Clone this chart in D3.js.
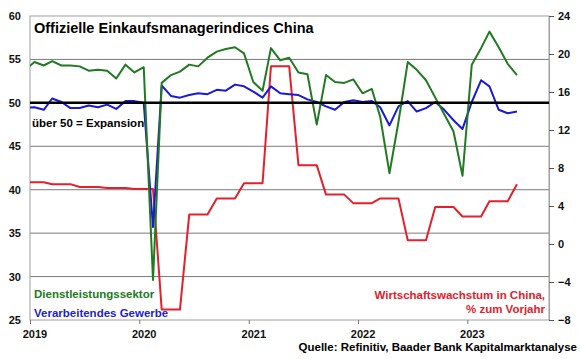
<!DOCTYPE html>
<html>
<head>
<meta charset="utf-8">
<script src="https://cdn.jsdelivr.net/npm/d3@7"></script>
<style>
  body { margin: 0; background: #fff; }
  svg text { font-family: "Liberation Sans", Arial, sans-serif; font-weight: bold; }
</style>
</head>
<body>
<div id="chart-area"></div>
<script>
// monthly values, Dec 2018 .. Jun 2023
const firstMonth = "2018-12";
const services = [53.8,
  54.7, 54.3, 54.8, 54.3, 54.3, 54.2, 53.7, 53.8, 53.7, 52.8, 54.4, 53.5,
  54.1, 29.6, 52.3, 53.2, 53.6, 54.4, 54.2, 55.2, 55.9, 56.2, 56.4, 55.7,
  52.4, 51.4, 56.3, 54.9, 55.2, 53.5, 53.3, 47.5, 53.2, 52.4, 52.3, 52.7,
  51.1, 51.6, 48.4, 41.9, 47.8, 54.7, 53.8, 52.6, 50.6, 48.7, 46.7, 41.6,
  54.4, 56.3, 58.2, 56.4, 54.5, 53.2];
const manufacturing = [49.4,
  49.5, 49.2, 50.5, 50.1, 49.4, 49.4, 49.7, 49.5, 49.8, 49.3, 50.2, 50.2,
  50.0, 35.7, 52.0, 50.8, 50.6, 50.9, 51.1, 51.0, 51.5, 51.4, 52.1, 51.9,
  51.3, 50.6, 51.9, 51.1, 51.0, 50.9, 50.4, 50.1, 49.6, 49.2, 50.1, 50.3,
  50.1, 50.2, 49.5, 47.4, 49.6, 50.2, 49.0, 49.4, 50.1, 49.2, 48.0, 47.0,
  50.1, 52.6, 51.9, 49.2, 48.8, 49.0];
const gdpGrowth = [6.5,
  6.5, 6.5, 6.3, 6.3, 6.3, 6.0, 6.0, 6.0, 5.9, 5.9, 5.9, 5.8,
  5.8, 5.8, -6.9, -6.9, -6.9, 3.1, 3.1, 3.1, 4.8, 4.8, 4.8, 6.4,
  6.4, 6.4, 18.7, 18.7, 18.7, 8.3, 8.3, 8.3, 5.2, 5.2, 5.2, 4.3,
  4.3, 4.3, 4.8, 4.8, 4.8, 0.4, 0.4, 0.4, 3.9, 3.9, 3.9, 2.9,
  2.9, 2.9, 4.5, 4.5, 4.5, 6.3];
const leftTicks = [25, 30, 35, 40, 45, 50, 55, 60];
const rightTicks = [-8, -4, 0, 4, 8, 12, 16, 20, 24];
const yearTicks = ["2019", "2020", "2021", "2022", "2023"];

const width = 580;
const height = 359;
const plot = { left: 30, right: 549, top: 16, bottom: 320 };

const svg = d3
  .select("#chart-area")
  .append("svg")
  .attr("width", width)
  .attr("height", height)
  .style("display", "block");

svg.append("rect").attr("width", width).attr("height", height).attr("fill", "#fff");

const parseMonth = d3.timeParse("%Y-%m");
const start = parseMonth(firstMonth);
// Excel date axis: each point sits in the middle of its month
const midMonth = (i) => d3.timeDay.offset(d3.timeMonth.offset(start, i), 15);

const x = d3
  .scaleTime()
  .domain([new Date(2019, 0, 1), new Date(2023, 9, 1)])
  .range([plot.left, plot.right]);
const yLeft = d3.scaleLinear().domain([25, 60]).range([plot.bottom, plot.top]);
const yRight = d3.scaleLinear().domain([-8, 24]).range([plot.bottom, plot.top]);

// gridlines
svg
  .append("g")
  .selectAll("line")
  .data(leftTicks.filter((d) => d !== 25 && d !== 60 && d !== 50))
  .join("line")
  .attr("x1", plot.left)
  .attr("x2", plot.right)
  .attr("y1", (d) => yLeft(d))
  .attr("y2", (d) => yLeft(d))
  .attr("stroke", "#7a7a7a")
  .attr("stroke-width", 1);

svg
  .append("rect")
  .attr("x", plot.left)
  .attr("y", plot.top)
  .attr("width", plot.right - plot.left)
  .attr("height", plot.bottom - plot.top)
  .attr("fill", "none")
  .attr("stroke", "#a0a0a0")
  .attr("stroke-width", 1);

// left axis
const leftAxis = svg
  .append("g")
  .attr("transform", `translate(${plot.left},0)`)
  .call(d3.axisLeft(yLeft).tickValues(leftTicks).tickSize(0).tickPadding(9));
leftAxis.select(".domain").remove();
leftAxis.selectAll("text").attr("font-size", 11).attr("fill", "#111");

// right axis
const rightAxis = svg
  .append("g")
  .attr("transform", `translate(${plot.right},0)`)
  .call(d3.axisRight(yRight).tickValues(rightTicks).tickSize(5).tickPadding(4));
rightAxis.select(".domain").attr("stroke", "#a0a0a0");
rightAxis.selectAll(".tick line").attr("stroke", "#555");
rightAxis.selectAll("text").attr("font-size", 11).attr("fill", "#111");

// bottom axis
const yearDates = yearTicks.map((d) => new Date(+d, 0, 1));
const halfMonth = x(new Date(2019, 0, 16)) - x(new Date(2019, 0, 1));
const bottomAxis = svg
  .append("g")
  .attr("transform", `translate(0,${plot.bottom})`)
  .call(
    d3
      .axisBottom(x)
      .tickValues(yearDates)
      .tickFormat((d, i) => yearTicks[i])
      .tickSize(4)
      .tickPadding(6)
  );
bottomAxis.select(".domain").remove();
bottomAxis.selectAll(".tick line").attr("stroke", "#777");
bottomAxis
  .selectAll("text")
  .attr("x", halfMonth)
  .attr("font-size", 11)
  .attr("fill", "#111");

// lines
svg
  .append("clipPath")
  .attr("id", "plot-clip")
  .append("rect")
  .attr("x", plot.left)
  .attr("y", plot.top - 2)
  .attr("width", plot.right - plot.left)
  .attr("height", plot.bottom - plot.top + 4);

const lines = svg.append("g").attr("clip-path", "url(#plot-clip)");

const leftLine = d3
  .line()
  .x((d, i) => x(midMonth(i)))
  .y((d) => yLeft(d));
const rightLine = d3
  .line()
  .x((d, i) => x(midMonth(i)))
  .y((d) => yRight(d));

const series = [
  { values: gdpGrowth, line: rightLine, color: "#e3202b" },
  { values: manufacturing, line: leftLine, color: "#1a1ad6" },
  { values: services, line: leftLine, color: "#217a21" },
];

lines
  .selectAll("path")
  .data(series)
  .join("path")
  .attr("d", (d) => d.line(d.values))
  .attr("fill", "none")
  .attr("stroke", (d) => d.color)
  .attr("stroke-width", 2)
  .attr("stroke-linejoin", "round");

// 50 threshold
svg
  .append("line")
  .attr("x1", plot.left)
  .attr("x2", plot.right)
  .attr("y1", yLeft(50))
  .attr("y2", yLeft(50))
  .attr("stroke", "#000")
  .attr("stroke-width", 2.5);

// texts
const labels = [
  { text: "Offizielle Einkaufsmanagerindices China", x: 34, y: 33, size: 14.5, color: "#000", anchor: "start" },
  { text: "über 50 = Expansion", x: 32, y: 126.5, size: 11.5, color: "#000", anchor: "start" },
  { text: "Dienstleistungssektor", x: 34, y: 298, size: 11.5, color: "#217a21", anchor: "start" },
  { text: "Verarbeitendes Gewerbe", x: 34, y: 317, size: 11.5, color: "#1f1fc8", anchor: "start" },
  { text: "Wirtschaftswachstum in China,", x: 545, y: 298.5, size: 11.5, color: "#e3202b", anchor: "end" },
  { text: "% zum Vorjahr", x: 545, y: 312.5, size: 11.5, color: "#e3202b", anchor: "end" },
  { text: "Quelle: Refinitiv, Baader Bank Kapitalmarktanalyse", x: 577, y: 351, size: 11.5, color: "#000", anchor: "end" },
];

svg
  .append("g")
  .selectAll("text")
  .data(labels)
  .join("text")
  .attr("x", (d) => d.x)
  .attr("y", (d) => d.y)
  .attr("font-size", (d) => d.size)
  .attr("fill", (d) => d.color)
  .attr("text-anchor", (d) => d.anchor)
  .text((d) => d.text);
</script>
</body>
</html>
